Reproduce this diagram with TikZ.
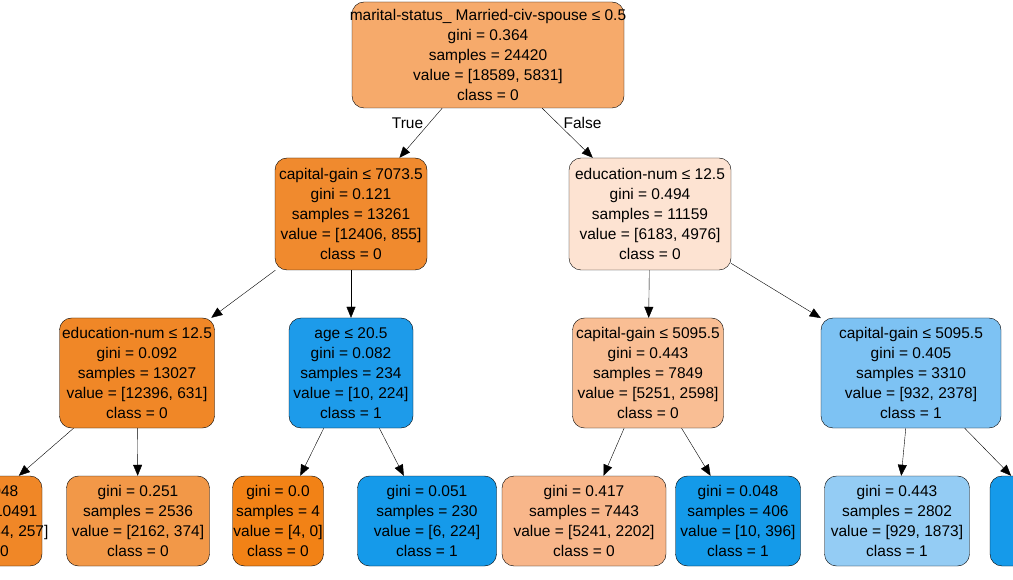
\documentclass[tikz,border=0pt]{standalone}
\usepackage{fontspec}
\setmainfont{Liberation Sans}
\usetikzlibrary{arrows.meta}
\definecolor{c0}{HTML}{F6AA6B}
\definecolor{c1}{HTML}{F08A2E}
\definecolor{c2}{HTML}{FDE3D2}
\definecolor{c3}{HTML}{F08727}
\definecolor{c4}{HTML}{1D9BEA}
\definecolor{c5}{HTML}{F9BE94}
\definecolor{c6}{HTML}{7DC2F3}
\definecolor{c7}{HTML}{F29848}
\definecolor{c8}{HTML}{F28216}
\definecolor{c9}{HTML}{159AEA}
\definecolor{c10}{HTML}{F8B68A}
\definecolor{c11}{HTML}{149AE9}
\definecolor{c12}{HTML}{94CCF4}
\tikzset{
  box/.style={draw=black, rounded corners=12pt, inner sep=0pt},
  txt/.style={align=center, font=\fontsize{15.5}{20}\selectfont, inner sep=0pt},
  edge/.style={-{Triangle[length=11pt,width=9pt]}, thin}
}
\begin{document}
\begin{tikzpicture}[x=1pt,y=-1pt]
\useasboundingbox (0,0) rectangle (1013,580);
\clip (0,0) rectangle (1013,580);

% root
\node[box, fill=c0, minimum width=272, minimum height=106] (root) at (488,55) {};
\node[txt] at (root) {marital-status\_ Married-civ-spouse ≤ 0.5\\gini = 0.364\\samples = 24420\\value = [18589, 5831]\\class = 0};

% level 2
\node[box, fill=c1, minimum width=152, minimum height=112] (l) at (351,214) {};
\node[txt] at (l) {capital-gain ≤ 7073.5\\gini = 0.121\\samples = 13261\\value = [12406, 855]\\class = 0};
\node[box, fill=c2, minimum width=162, minimum height=112] (r) at (650,214) {};
\node[txt] at (r) {education-num ≤ 12.5\\gini = 0.494\\samples = 11159\\value = [6183, 4976]\\class = 0};

% level 3
\node[box, fill=c3, minimum width=155, minimum height=110] (ll) at (137,373) {};
\node[txt] at (ll) {education-num ≤ 12.5\\gini = 0.092\\samples = 13027\\value = [12396, 631]\\class = 0};
\node[box, fill=c4, minimum width=124, minimum height=110] (lr) at (351,373) {};
\node[txt] at (lr) {age ≤ 20.5\\gini = 0.082\\samples = 234\\value = [10, 224]\\class = 1};
\node[box, fill=c5, minimum width=151, minimum height=110] (rl) at (648,373) {};
\node[txt] at (rl) {capital-gain ≤ 5095.5\\gini = 0.443\\samples = 7849\\value = [5251, 2598]\\class = 0};
\node[box, fill=c6, minimum width=180, minimum height=110] (rr) at (911,373) {};
\node[txt] at (rr) {capital-gain ≤ 5095.5\\gini = 0.405\\samples = 3310\\value = [932, 2378]\\class = 1};

% level 4
\node[box, fill=c3, minimum width=150, minimum height=90] (a) at (-33,521) {};
\node[txt] at (-22,521) {gini = 0.048\\samples = 10491\\value = [10234, 257]\\class = 0};
\node[box, fill=c7, minimum width=143, minimum height=90] (b) at (138,521) {};
\node[txt] at (b) {gini = 0.251\\samples = 2536\\value = [2162, 374]\\class = 0};
\node[box, fill=c8, minimum width=91, minimum height=90] (c) at (278,521) {};
\node[txt] at (c) {gini = 0.0\\samples = 4\\value = [4, 0]\\class = 0};
\node[box, fill=c9, minimum width=139, minimum height=90] (d) at (427,521) {};
\node[txt] at (d) {gini = 0.051\\samples = 230\\value = [6, 224]\\class = 1};
\node[box, fill=c10, minimum width=164, minimum height=90] (e) at (584,521) {};
\node[txt] at (e) {gini = 0.417\\samples = 7443\\value = [5241, 2202]\\class = 0};
\node[box, fill=c11, minimum width=125, minimum height=90] (f) at (738,521) {};
\node[txt] at (f) {gini = 0.048\\samples = 406\\value = [10, 396]\\class = 1};
\node[box, fill=c12, minimum width=145, minimum height=90] (g) at (897,521) {};
\node[txt] at (g) {gini = 0.443\\samples = 2802\\value = [929, 1873]\\class = 1};
\node[box, fill=c9, minimum width=130, minimum height=90] (h) at (1055,521) {};

% edges
\draw[edge] (root) -- node[txt, pos=0.3, left=6pt] {True} (l);
\draw[edge] (root) -- node[txt, pos=0.3, right=6pt] {False} (r);
\draw[edge] (l) -- (ll);
\draw[edge] (l) -- (lr);
\draw[edge] (r) -- (rl);
\draw[edge] (r) -- (rr);
\draw[edge] (ll) -- (a);
\draw[edge] (ll) -- (b);
\draw[edge] (lr) -- (c);
\draw[edge] (lr) -- (d);
\draw[edge] (rl) -- (e);
\draw[edge] (rl) -- (f);
\draw[edge] (rr) -- (g);
\draw[edge] (rr) -- (h);
\end{tikzpicture}
\end{document}
